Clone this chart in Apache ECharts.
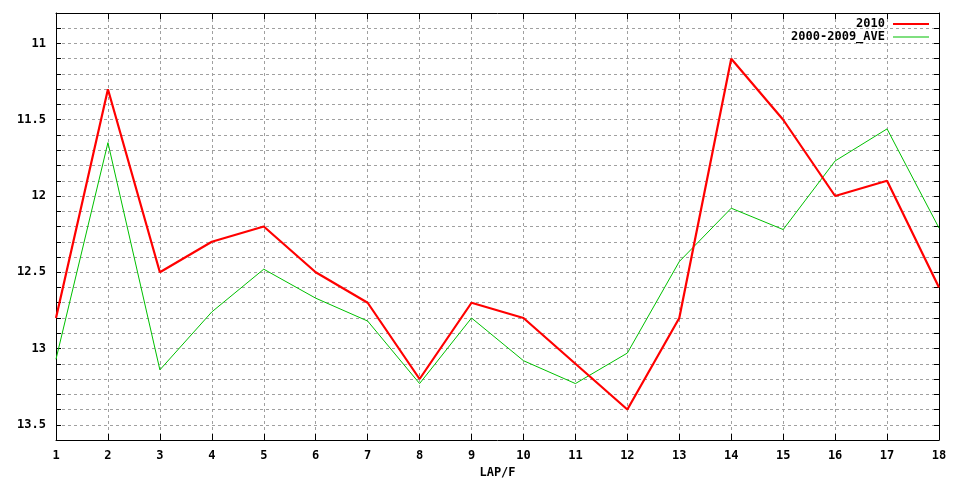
<!DOCTYPE html>
<html>
<head>
<meta charset="utf-8">
<script src="https://cdn.jsdelivr.net/npm/echarts@6/dist/echarts.min.js"></script>
<style>html,body{margin:0;padding:0;background:#fff;}#c{width:960px;height:480px;}</style>
</head>
<body>
<div id="c"></div>
<script>
var laps = [1,2,3,4,5,6,7,8,9,10,11,12,13,14,15,16,17,18];
var series2010 = [12.8,11.3,12.5,12.3,12.2,12.5,12.7,13.2,12.7,12.8,13.1,13.4,12.8,11.1,11.5,12.0,11.9,12.6];
var seriesAve = [13.07,11.65,13.14,12.76,12.48,12.67,12.82,13.23,12.80,13.08,13.23,13.03,12.43,12.08,12.22,11.77,11.56,12.21];
var seriesNames = ['2010','2000-2009_AVE'];
var xAxisName = 'LAP/F';

var font = 'DejaVu Sans Mono';
function pairs(vals){ return laps.map(function(x,i){ return [x, vals[i]]; }); }
function yLabel(v){
  var r = Math.round(v*2);
  if (Math.abs(v*2 - r) < 1e-6) { var s = (r/2); return String(s); }
  return '';
}
var chart = echarts.init(document.getElementById('c'), null, {renderer:'canvas'});
var gridLine = {show:true, lineStyle:{color:'#a0a0a0', type:[3,3], width:1}};
chart.setOption({
  animation:false,
  backgroundColor:'#fff',
  grid:{left:56, right:21, top:13, bottom:40, show:false, containLabel:false, outerBoundsMode:'none'},
  legend:{
    orient:'vertical', right:26, top:13, align:'right', itemGap:1,
    itemWidth:36, itemHeight:11,
    textStyle:{fontFamily:font, fontWeight:'bold', fontSize:12, color:'#000', padding:[0,3,0,0]},
    data:[
      {name:seriesNames[0], icon:'path://M0,4.5 L36,4.5 L36,6.5 L0,6.5 Z', itemStyle:{color:'#ff0000'}},
      {name:seriesNames[1], icon:'path://M0,5 L36,5 L36,6 L0,6 Z', itemStyle:{color:'#00c000'}}
    ]
  },
  xAxis:[{
    type:'value', min:1, max:18, interval:1, position:'bottom',
    name:xAxisName, nameLocation:'middle', nameGap:27,
    nameTextStyle:{fontFamily:font, fontWeight:'bold', fontSize:12, color:'#000'},
    axisLine:{show:true, onZero:false, lineStyle:{color:'#000', width:1}},
    axisTick:{show:true, inside:true, length:6, lineStyle:{color:'#000'}},
    axisLabel:{fontFamily:font, fontWeight:'bold', fontSize:12, color:'#000', margin:10},
    splitLine:gridLine
  },{
    type:'value', min:1, max:18, interval:1, position:'top',
    axisLine:{show:true, onZero:false, lineStyle:{color:'#000', width:1}},
    axisTick:{show:true, inside:true, length:6, lineStyle:{color:'#000'}},
    axisLabel:{show:false}, splitLine:{show:false}
  }],
  yAxis:[{
    type:'value', inverse:true, min:10.8, max:13.6, interval:0.1, position:'left',
    axisLine:{show:true, onZero:false, lineStyle:{color:'#000', width:1}},
    axisTick:{show:true, inside:true, length:5, lineStyle:{color:'#000'}},
    axisLabel:{fontFamily:font, fontWeight:'bold', fontSize:12, color:'#000', margin:10,
      formatter:yLabel, showMinLabel:false, showMaxLabel:false},
    splitLine:gridLine
  },{
    type:'value', inverse:true, min:10.8, max:13.6, interval:0.1, position:'right',
    axisLine:{show:true, onZero:false, lineStyle:{color:'#000', width:1}},
    axisTick:{show:true, inside:true, length:5, lineStyle:{color:'#000'}},
    axisLabel:{show:false}, splitLine:{show:false}
  }],
  series:[
    {name:seriesNames[0], type:'line', data:pairs(series2010), symbol:'none',
     lineStyle:{color:'#ff0000', width:2.2}, itemStyle:{color:'#ff0000'}, z:3},
    {name:seriesNames[1], type:'line', data:pairs(seriesAve), symbol:'none',
     lineStyle:{color:'#00c000', width:1}, itemStyle:{color:'#00c000'}, z:2}
  ]
});
</script>
</body>
</html>
